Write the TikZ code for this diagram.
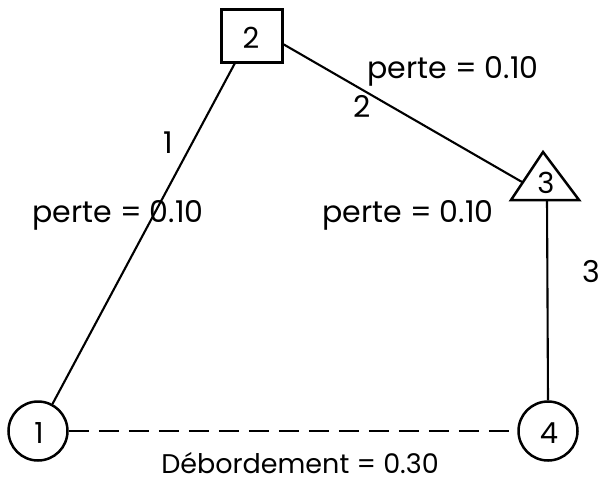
\documentclass[tikz,border=0pt]{standalone}
\usepackage{fontspec}
\setmainfont{Poppins}
\begin{document}
\begin{tikzpicture}[x=1pt,y=-1pt,
  txt/.style={font=\fontsize{30}{32}\selectfont, inner sep=0pt},
  lbl/.style={font=\fontsize{29}{31}\selectfont, inner sep=0pt},
  sq/.style={draw, line width=2.5pt, minimum width=61pt, minimum height=53pt, inner sep=0pt},
  circ/.style={draw, circle, line width=2.5pt, minimum size=59pt, inner sep=0pt},
  edge/.style={line width=2.1pt}]
\useasboundingbox (0,0) rectangle (604,485);
\node[sq] (n2) at (252,36) {};
\node[lbl] (t2) at (251,38) {2};
\node[circ] (n1) at (38,431) {};
\node[lbl] (t1) at (39,433) {1};
\node[circ] (n4) at (548,431) {};
\node[lbl] (t4) at (549,433) {4};
\coordinate (ta) at (543,152);
\coordinate (tl) at (511,200);
\coordinate (tr) at (579,200);
\coordinate (tb) at (547,200);
\draw[line width=2.5pt, line join=miter] (ta) -- (tl) -- (tr) -- cycle;
\node[lbl] (t3) at (546,183) {3};
\coordinate (s1) at (235,63);
\coordinate (s2) at (283,44);
\coordinate (tin) at (522,182);
\draw[edge] (n1) -- (s1);
\draw[edge] (s2) -- (tin);
\draw[edge] (tb) -- (n4.north);
\draw[edge, dash pattern=on 20pt off 10pt] (n1.east) -- (n4.west);
\node[txt] (e1) at (168,143) {1};
\node[txt] (p1) at (118,215) {perte = 0.10};
\node[txt] (e2) at (362,106) {2};
\node[txt] (p2) at (453,71) {perte = 0.10};
\node[txt] (p3) at (408,215) {perte = 0.10};
\node[txt] (e3) at (591,272) {3};
\node[font=\fontsize{27}{29}\selectfont, inner sep=0pt] (d) at (300,463) {Débordement = 0.30};
\end{tikzpicture}
\end{document}
